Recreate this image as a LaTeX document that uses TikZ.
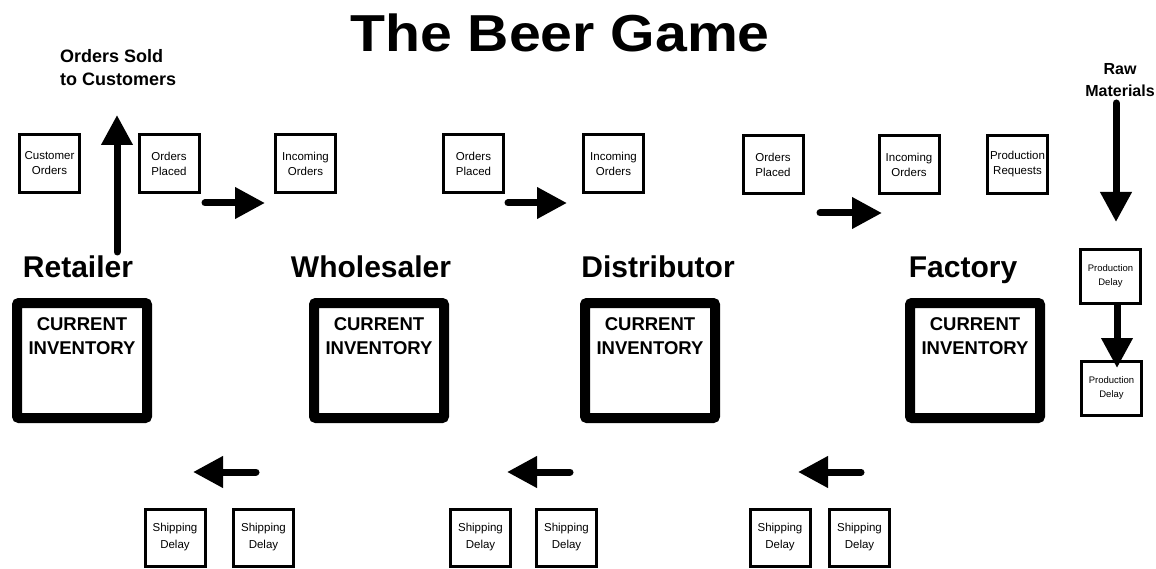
\documentclass[tikz,border=0pt]{standalone}
\usepackage{fontspec}
\setmainfont{Liberation Sans}
\usetikzlibrary{arrows.meta}
\begin{document}
\begin{tikzpicture}[x=1pt,y=-1pt,
  smallbox/.style={draw, line width=3pt, minimum width=60pt, minimum height=58pt,
    inner sep=0pt, align=center, font=\fontsize{11.5}{15}\selectfont},
  delaybox/.style={smallbox, minimum height=54pt, font=\fontsize{9.5}{14}\selectfont},
  shipbox/.style={smallbox, minimum height=57pt, font=\fontsize{11.5}{17}\selectfont},
  invbox/.style={draw, line width=10pt, minimum width=130pt, minimum height=115pt,
    rounded corners=2pt, inner sep=0pt},
  invtext/.style={align=center, inner sep=0pt, font=\bfseries\fontsize{18.5}{24}\selectfont},
  stage/.style={anchor=base, inner sep=0pt, font=\bfseries\fontsize{30}{36}\selectfont},
  note/.style={inner sep=0pt, font=\bfseries\fontsize{18}{23}\selectfont},
  bigarrow/.style={line width=7pt, line cap=round, -{Triangle[length=30pt,width=30pt]}}]

\useasboundingbox (0,0) rectangle (1156,569);

% title
\node[anchor=base, inner sep=0pt, xscale=1.1, font=\bfseries\fontsize{52}{60}\selectfont]
  (title) at (560,52) {The Beer Game};

% outside world (base anchor sits on the last line)
\node[note, anchor=base west, align=left] (sold) at (60,86) {Orders Sold\\to Customers};
\node[note, anchor=base, align=center, font=\bfseries\fontsize{16}{22}\selectfont]
  (raw) at (1120,97) {Raw\\Materials};

% order slips
\node[smallbox] (custord) at (49.5,163.5) {Customer\\Orders};
\node[smallbox] (placedR) at (169,163.5) {Orders\\Placed};
\node[smallbox] (incW) at (305.5,163.5) {Incoming\\Orders};
\node[smallbox] (placedW) at (473.5,163.5) {Orders\\Placed};
\node[smallbox] (incD) at (613.5,163.5) {Incoming\\Orders};
\node[smallbox] (placedD) at (773,164.5) {Orders\\Placed};
\node[smallbox] (incF) at (909,164.5) {Incoming\\Orders};
\node[smallbox] (prodreq) at (1017.5,164.5) {Production\\Requests};

% stage names
\node[stage] (retailer) at (78,278) {Retailer};
\node[stage] (wholesaler) at (371,278) {Wholesaler};
\node[stage] (distributor) at (658,278) {Distributor};
\node[stage] (factory) at (963,278) {Factory};

% inventories
\foreach \nm/\cx in {invR/82, invW/379, invD/650, invF/975}{
  \node[invbox] (\nm) at (\cx,360.5) {};
  \node[invtext, anchor=base] (\nm-t) at (\cx,354) {CURRENT\\INVENTORY};
}

% production line
\node[delaybox] (pd1) at (1110.5,276.5) {Production\\Delay};
\node[delaybox] (pd2) at (1111.5,388) {Production\\Delay};

% shipping slips
\node[shipbox] (sR1) at (175,537.5) {Shipping\\Delay};
\node[shipbox] (sR2) at (263.5,537.5) {Shipping\\Delay};
\node[shipbox] (sW1) at (480.5,537.5) {Shipping\\Delay};
\node[shipbox] (sW2) at (566.5,537.5) {Shipping\\Delay};
\node[shipbox] (sD1) at (780,537.5) {Shipping\\Delay};
\node[shipbox] (sD2) at (859.5,537.5) {Shipping\\Delay};

% arrow end points
\coordinate (upS) at (117,252);
\coordinate (upE) at (117,115);
\coordinate (o1S) at (205,203);
\coordinate (o1E) at (265,203);
\coordinate (o2S) at (508,203);
\coordinate (o2E) at (567,203);
\coordinate (o3S) at (820,213);
\coordinate (o3E) at (882,213);
\coordinate (rawS) at (1116,103);
\coordinate (rawE) at (1116,222);
\coordinate (pdS) at (pd1.south -| 1117,0);
\coordinate (pdE) at (1117,368);
\coordinate (s1S) at (256,472);
\coordinate (s1E) at (193,472);
\coordinate (s2S) at (570,472);
\coordinate (s2E) at (507,472);
\coordinate (s3S) at (861,472);
\coordinate (s3E) at (798,472);

% flows
\draw[bigarrow] (upS) -- (upE);
\draw[bigarrow] (o1S) -- (o1E);
\draw[bigarrow] (o2S) -- (o2E);
\draw[bigarrow] (o3S) -- (o3E);
\draw[bigarrow] (rawS) -- (rawE);
\draw[bigarrow, line cap=butt] (pdS) -- (pdE);
\draw[bigarrow] (s1S) -- (s1E);
\draw[bigarrow] (s2S) -- (s2E);
\draw[bigarrow] (s3S) -- (s3E);
\end{tikzpicture}
\end{document}
